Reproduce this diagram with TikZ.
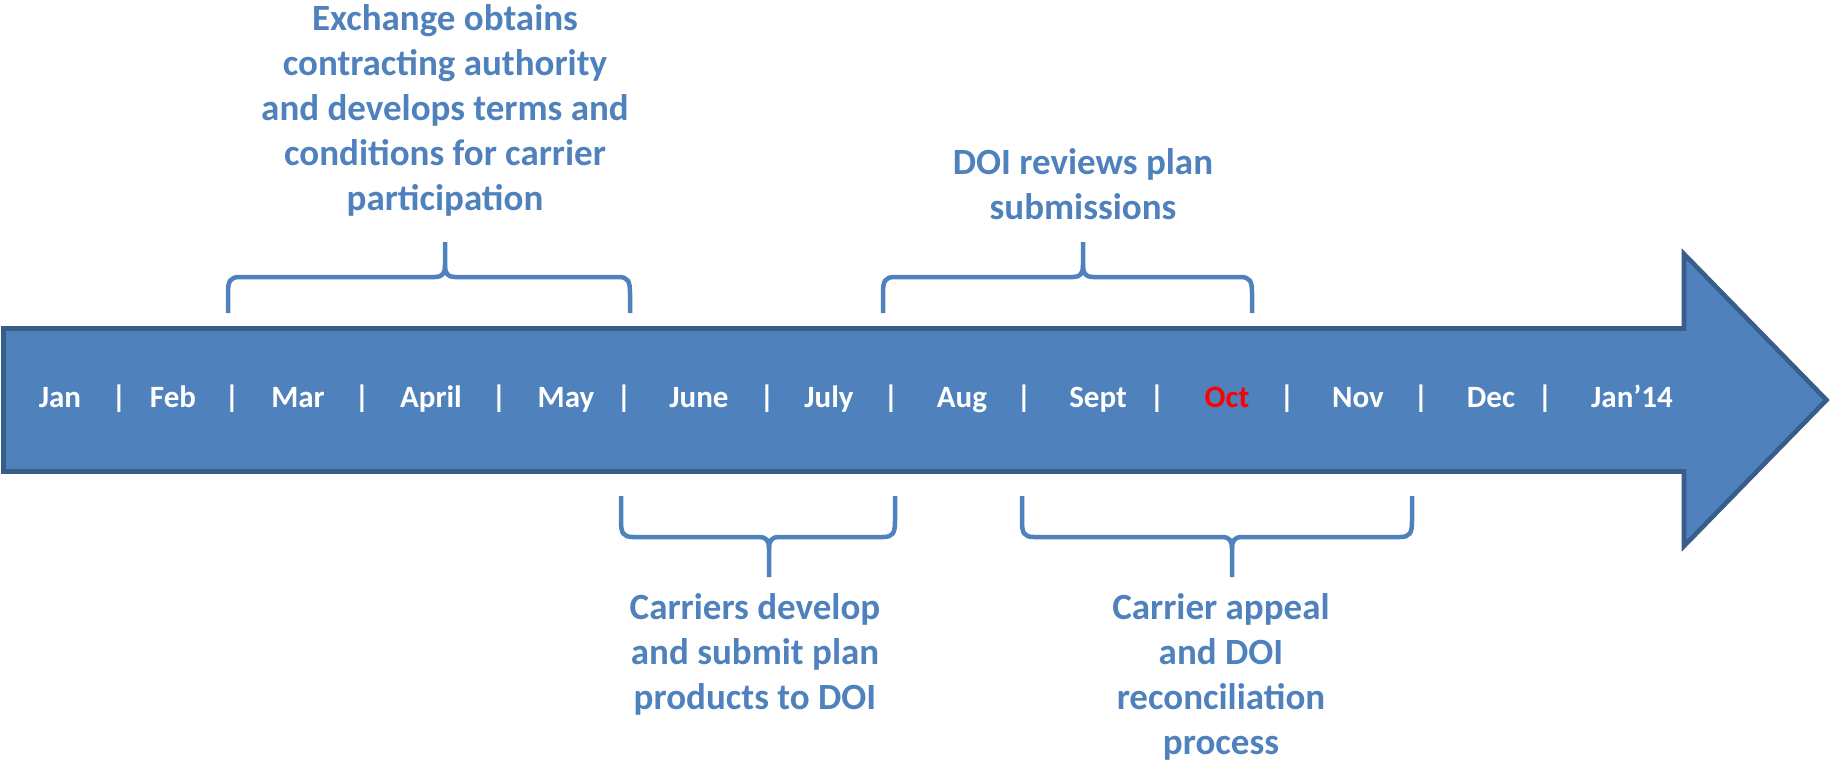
\documentclass[tikz,border=0pt]{standalone}
\usepackage{fontspec}
\setmainfont{Carlito}
\definecolor{officeblue}{HTML}{4F81BD}
\definecolor{darkborder}{HTML}{385D8A}
\definecolor{octred}{HTML}{FF0000}
\tikzset{
  monthlbl/.style={text=white, font=\fontsize{31}{31}\selectfont\bfseries, anchor=base, inner sep=0pt},
  sepbar/.style={monthlbl},
  note/.style={text=officeblue, font=\fontsize{37}{45}\selectfont\bfseries, align=center, anchor=north, inner sep=0pt},
  bracestyle/.style={draw=officeblue, line width=4.5pt, line join=round},
  arrowbody/.style={fill=officeblue, draw=darkborder, line width=4.6pt, line join=miter}
}
% #1 xl, #2 xr, #3 xc, #4 yend, #5 ybar, #6 ytip, #7 direction (+1 tip above, -1 tip below)
\newcommand{\drawmybrace}[7]{%
  \draw[bracestyle] (#1,#4) -- (#1,{#5-(#7)*16}) .. controls (#1,{#5-(#7)*4}) and ({#1+2},#5) .. ({#1+12},#5)
     -- ({#3-10},#5) .. controls ({#3-3},#5) and (#3,{#5+(#7)*3}) .. (#3,{#5+(#7)*12}) -- (#3,#6);
  \draw[bracestyle] (#2,#4) -- (#2,{#5-(#7)*16}) .. controls (#2,{#5-(#7)*4}) and ({#2-2},#5) .. ({#2-12},#5)
     -- ({#3+10},#5) .. controls ({#3+3},#5) and (#3,{#5+(#7)*3}) .. (#3,{#5+(#7)*12});
}
\begin{document}
\begin{tikzpicture}[x=1pt,y=1pt]
\useasboundingbox (0,0) rectangle (1832,-765);
% timeline arrow
\draw[arrowbody] (3.5,-328.5) -- (1684,-328.5) -- (1684,-254) -- (1826.5,-400) -- (1684,-546) -- (1684,-471.5) -- (3.5,-471.5) -- cycle;
% months
\node[monthlbl] (m1) at (60,-407) {Jan};
\node[sepbar] (s1) at (119,-407) {|};
\node[monthlbl] (m2) at (173,-407) {Feb};
\node[sepbar] (s2) at (232,-407) {|};
\node[monthlbl] (m3) at (298,-407) {Mar};
\node[sepbar] (s3) at (362,-407) {|};
\node[monthlbl] (m4) at (431,-407) {April};
\node[sepbar] (s4) at (499,-407) {|};
\node[monthlbl] (m5) at (566,-407) {May};
\node[sepbar] (s5) at (624,-407) {|};
\node[monthlbl] (m6) at (699,-407) {June};
\node[sepbar] (s6) at (767,-407) {|};
\node[monthlbl] (m7) at (829,-407) {July};
\node[sepbar] (s7) at (891,-407) {|};
\node[monthlbl] (m8) at (962,-407) {Aug};
\node[sepbar] (s8) at (1024,-407) {|};
\node[monthlbl] (m9) at (1098,-407) {Sept};
\node[sepbar] (s9) at (1157,-407) {|};
\node[monthlbl, text=octred] (m10) at (1227,-407) {Oct};
\node[sepbar] (s10) at (1287,-407) {|};
\node[monthlbl] (m11) at (1358,-407) {Nov};
\node[sepbar] (s11) at (1421,-407) {|};
\node[monthlbl] (m12) at (1491,-407) {Dec};
\node[sepbar] (s12) at (1545,-407) {|};
\node[monthlbl] (m13) at (1632,-407) {Jan’14};
% braces
\drawmybrace{228}{630}{445}{-313}{-277}{-242}{1}
\drawmybrace{883}{1252}{1083}{-313}{-277}{-242}{1}
\drawmybrace{621}{895}{769}{-496}{-537}{-577}{-1}
\drawmybrace{1022}{1412}{1232}{-496}{-537}{-577}{-1}
% notes
\node[note] (n1) at (445,-4) {Exchange obtains\\contracting authority\\and develops terms and\\conditions for carrier\\participation};
\node[note] (n2) at (1083,-148) {DOI reviews plan\\submissions};
\node[note] (n3) at (755,-593) {Carriers develop\\and submit plan\\products to DOI};
\node[note] (n4) at (1221,-593) {Carrier appeal\\and DOI\\reconciliation\\process};
\end{tikzpicture}
\end{document}
